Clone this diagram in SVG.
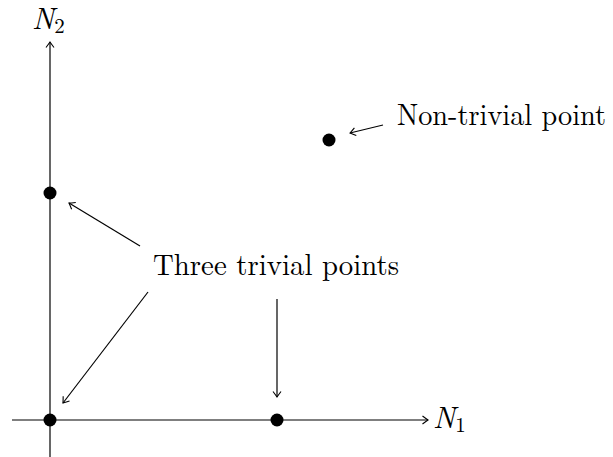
<svg xmlns="http://www.w3.org/2000/svg" width="613" height="457" viewBox="0 0 613 457">
<style>
.ln{stroke:#000;stroke-width:1.2;fill:none}
.pt{fill:#000}
.tx{font-family:"Latin Modern Roman","Liberation Serif","DejaVu Serif",serif;font-size:30px;fill:#000}
.it{font-style:italic}
.sub{font-size:21px}
</style>
<defs>
<marker id="ah" viewBox="-7 -5 9 10" refX="0" refY="0" markerWidth="9" markerHeight="10" markerUnits="userSpaceOnUse" orient="auto">
<path d="M -5.5 -4 Q -1.5 -1 0 0 Q -1.5 1 -5.5 4" stroke="#000" stroke-width="1.1" fill="none"/>
</marker>
</defs>
<g id="connectors">
<line class="ln" x1="12" y1="420" x2="428" y2="420" marker-end="url(#ah)"/>
<line class="ln" x1="50" y1="457" x2="50" y2="42" marker-end="url(#ah)"/>
<line class="ln" x1="140" y1="246" x2="69" y2="203" marker-end="url(#ah)"/>
<line class="ln" x1="148" y1="292" x2="63" y2="403" marker-end="url(#ah)"/>
<line class="ln" x1="277" y1="299" x2="277" y2="397" marker-end="url(#ah)"/>
<line class="ln" x1="383" y1="125" x2="350" y2="133" marker-end="url(#ah)"/>
</g>
<g id="origin"><circle class="pt" cx="50" cy="420" r="6.5"/></g>
<g id="pointN1"><circle class="pt" cx="277" cy="420" r="6.5"/></g>
<g id="pointN2"><circle class="pt" cx="50" cy="193" r="6.5"/></g>
<g id="nontrivial"><circle class="pt" cx="329" cy="140" r="6.5"/></g>
<g id="labelN2"><text class="tx" x="32" y="29"><tspan class="it">N</tspan><tspan class="sub" dy="4">2</tspan></text></g>
<g id="labelN1"><text class="tx" x="433" y="428"><tspan class="it">N</tspan><tspan class="sub" dy="4">1</tspan></text></g>
<g id="labelNontrivial"><text class="tx" x="397" y="125" textLength="209" lengthAdjust="spacingAndGlyphs">Non-trivial point</text></g>
<g id="labelTrivial"><text class="tx" x="153" y="275" textLength="246" lengthAdjust="spacingAndGlyphs">Three trivial points</text></g>
</svg>
